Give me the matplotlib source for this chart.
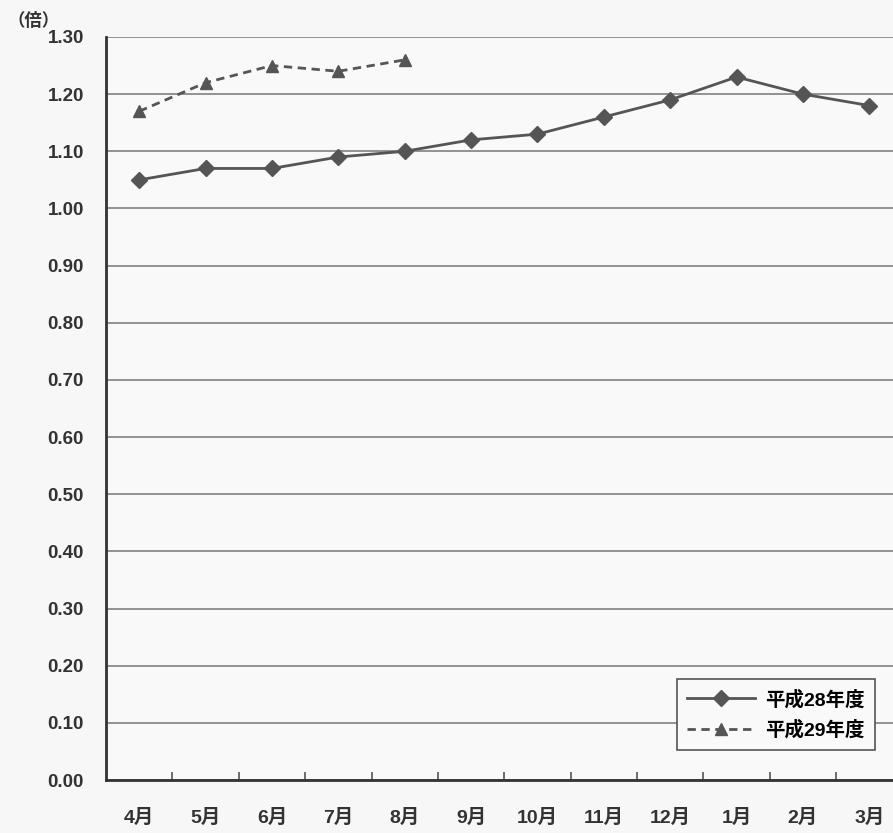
import matplotlib.pyplot as plt
from matplotlib.ticker import FixedLocator

plt.rcParams['font.family'] = ['Liberation Sans', 'Noto Sans CJK JP', 'DejaVu Sans']

months = ['4月', '5月', '6月', '7月', '8月', '9月', '10月', '11月', '12月', '1月', '2月', '3月']
h28 = [1.05, 1.07, 1.07, 1.09, 1.10, 1.12, 1.13, 1.16, 1.19, 1.23, 1.20, 1.18]
h29 = [1.17, 1.22, 1.25, 1.24, 1.26]
yticks = [i / 10 for i in range(14)]

fig = plt.figure(figsize=(8.93, 8.33), dpi=100, facecolor='#f7f7f7')
ax = fig.add_axes([0.1187, 0.0636, 0.892, 0.892])
ax.set_facecolor('#f9f9f9')

x28 = list(range(len(h28)))
x29 = list(range(len(h29)))
ax.plot(x28, h28, color='#555555', linestyle='-', linewidth=2, marker='D', markersize=8,
        markerfacecolor='#555555', markeredgecolor='#555555', label='平成28年度', zorder=3)
ax.plot(x29, h29, color='#555555', linestyle=(0, (3, 2)), linewidth=2, marker='^', markersize=9,
        markerfacecolor='#555555', markeredgecolor='#555555', label='平成29年度', zorder=3)

ax.set_xlim(-0.5, 11.5)
ax.set_ylim(0, 1.3)
ax.set_yticks(yticks)
ax.set_yticklabels([f'{v:.2f}' for v in yticks])
ax.set_xticks(x28)
ax.set_xticklabels(months)
ax.xaxis.set_minor_locator(FixedLocator([i + 0.5 for i in range(11)]))

ax.grid(axis='y', color='#808080', linewidth=1.2)
ax.set_axisbelow(True)
for s in ['top', 'right']:
    ax.spines[s].set_visible(False)
ax.spines['left'].set_color('#333333')
ax.spines['left'].set_linewidth(2)
ax.spines['bottom'].set_color('#333333')
ax.spines['bottom'].set_linewidth(2)

ax.tick_params(axis='y', length=0, pad=16, labelsize=13.5, labelcolor='#333333')
ax.tick_params(axis='x', which='major', length=0, pad=21, labelsize=14, labelcolor='#333333')
ax.tick_params(axis='x', which='minor', direction='in', length=6, width=1.2, color='#555555')
for lab in ax.get_xticklabels() + ax.get_yticklabels():
    lab.set_fontweight('bold')

fig.text(0.008, 0.975, '（倍）', fontsize=12.5, fontweight='bold', color='#333333', va='center')

leg = ax.legend(loc='lower right', bbox_to_anchor=(0.966, 0.04), borderaxespad=0, fancybox=False,
                framealpha=1, edgecolor='#555555', facecolor='#f9f9f9', handlelength=3.5,
                handletextpad=0.5, labelspacing=0.55, borderpad=0.55,
                prop={'weight': 'bold', 'size': 14})
leg.get_frame().set_linewidth(1.2)

fig.savefig('out.png', dpi=100, facecolor=fig.get_facecolor())
